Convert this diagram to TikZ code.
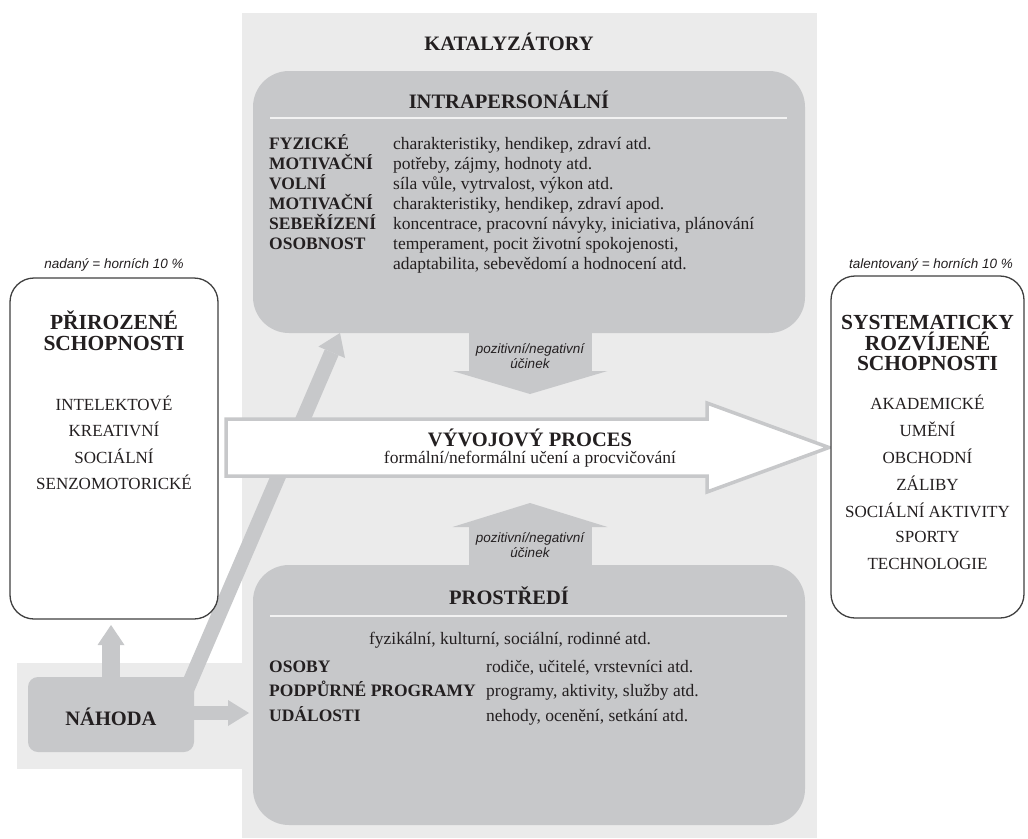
\documentclass[tikz,border=0pt]{standalone}
\usepackage{fontspec}
\setmainfont{Liberation Serif}
\setsansfont{Liberation Sans}
\usetikzlibrary{arrows.meta,calc,positioning}
\pgfdeclarelayer{pozadi}
\pgfsetlayers{pozadi,main}
\definecolor{svetla}{HTML}{EBEBEB}
\definecolor{seda}{HTML}{C7C8CA}
\definecolor{pismo}{HTML}{231F20}
\definecolor{okraj}{HTML}{404040}
\definecolor{cara}{HTML}{F2F2F2}
\tikzset{
  katbox/.style={fill=seda, rounded corners=36pt, inner sep=0pt},
  schopbox/.style={draw=okraj, line width=1.3pt, fill=white, rounded corners=24pt, inner sep=0pt},
  nadpis/.style={text=pismo, font=\fontsize{20.5}{22}\selectfont\bfseries},
  velky/.style={text=pismo, align=center, font=\fontsize{21.5}{20.5}\selectfont\bfseries},
  stitek/.style={text=pismo, anchor=base west, inner sep=0pt, font=\fontsize{17.5}{19}\selectfont\bfseries},
  radek/.style={text=pismo, anchor=base west, inner sep=0pt, font=\fontsize{17.5}{19}\selectfont},
  polozka/.style={text=pismo, font=\fontsize{17}{18}\selectfont},
  poznamka/.style={text=pismo, align=center, font=\fontsize{13.5}{15}\selectfont\sffamily\itshape},
  blok/.style={draw=seda, line cap=butt},
  oddelovac/.style={draw=cara, line width=2pt}
}
\begin{document}
\begin{tikzpicture}[x=1pt,y=-1pt]
\useasboundingbox (0,0) rectangle (1028,838);
% katalyzatory
\node[katbox, minimum width=552pt, minimum height=262pt] (intra) at (529,202) {};
\node[katbox, minimum width=552pt, minimum height=260pt] (prostredi) at (529,695) {};
\node[katbox, rounded corners=10pt, minimum width=166pt, minimum height=75pt] (nahoda) at (111,714.5) {};
\node[nadpis] (nahoda-text) at (111,717) {NÁHODA};
\node[nadpis] (katalyzatory) at (509,42) {KATALYZÁTORY};
\coordinate (dolu-hrot) at (530,394);
\coordinate (nahoru-hrot) at (530,503);
\coordinate (intra-hrot) at (340,333);
\coordinate (nahoda-nahoru) at (111,625);
\coordinate (nahoda-vpravo) at (249,713);
\begin{pgfonlayer}{pozadi}
\fill[svetla] (242,13) rectangle (817,838);
\fill[svetla] (17,663) rectangle (242,769);
\draw[blok, line width=123pt, -{Triangle[width=155pt,length=23pt,line width=0pt]}] (intra.south -| dolu-hrot) -- (dolu-hrot);
\draw[blok, line width=123pt, -{Triangle[width=155pt,length=24pt,line width=0pt]}] (prostredi.north -| nahoru-hrot) -- (nahoru-hrot);
\draw[blok, line width=15pt, -{Triangle[width=29pt,length=21pt,line width=0pt]}] ($(nahoda.north east)+(-8,14)$) -- (intra-hrot);
\draw[blok, line width=18pt, -{Triangle[width=27pt,length=20pt,line width=0pt]}] (nahoda.north -| nahoda-nahoru) -- (nahoda-nahoru);
\draw[blok, line width=14pt, -{Triangle[width=26pt,length=21pt,line width=0pt]}] (nahoda.east |- nahoda-vpravo) -- (nahoda-vpravo);
\end{pgfonlayer}
\node[poznamka] (ucinek-dolu) at (530,356) {pozitivní/negativní\\účinek};
\node[poznamka] (ucinek-nahoru) at (530,545) {pozitivní/negativní\\účinek};
% intrapersonalni
\node[nadpis] (intra-nadpis) at (509,100) {INTRAPERSONÁLNÍ};
\draw[oddelovac] (270,118) -- (787,118);
\foreach \stit/\popis [count=\i from 0] in {FYZICKÉ/{charakteristiky, hendikep, zdraví atd.},
    MOTIVAČNÍ/{potřeby, zájmy, hodnoty atd.},
    VOLNÍ/{síla vůle, vytrvalost, výkon atd.},
    MOTIVAČNÍ/{charakteristiky, hendikep, zdraví apod.},
    SEBEŘÍZENÍ/{koncentrace, pracovní návyky, iniciativa, plánování},
    OSOBNOST/{temperament, pocit životní spokojenosti,}}
{
  \node[stitek] (intra-s\i) at (269,{149+20*\i}) {\stit};
  \node[radek] (intra-p\i) at (393,{149+20*\i}) {\popis};
}
\node[radek] (intra-p6) at (393,269) {adaptabilita, sebevědomí a hodnocení atd.};
% prostredi
\node[nadpis] (prostredi-nadpis) at (509,596) {PROSTŘEDÍ};
\draw[oddelovac] (270,616) -- (787,616);
\node[radek, anchor=center] (prostredi-obecne) at (510,640) {fyzikální, kulturní, sociální, rodinné atd.};
\foreach \stit/\popis [count=\i from 0] in {OSOBY/{rodiče, učitelé, vrstevníci atd.},
    PODPŮRNÉ PROGRAMY/{programy, aktivity, služby atd.},
    UDÁLOSTI/{nehody, ocenění, setkání atd.}}
{
  \node[stitek] (prostredi-s\i) at (269,{672+24.5*\i}) {\stit};
  \node[radek] (prostredi-p\i) at (486,{672+24.5*\i}) {\popis};
}
% vyvojovy proces
\coordinate (proces-zac) at (226,447.5);
\coordinate (proces-hrot) at (829,447.5);
\draw[draw=seda, line width=3.5pt, fill=white, line join=miter] ($(proces-zac)+(0,-28.5)$) -- ($(proces-hrot)+(-122,-28.5)$) -- ($(proces-hrot)+(-122,-44.5)$) -- (proces-hrot) -- ($(proces-hrot)+(-122,44.5)$) -- ($(proces-hrot)+(-122,28.5)$) -- ($(proces-zac)+(0,28.5)$) -- cycle;
\node[nadpis] (proces) at (530,438) {VÝVOJOVÝ PROCES};
\node[radek, anchor=center] (proces-popis) at (530,459) {formální/neformální učení a procvičování};
% prirozene schopnosti
\node[poznamka] (nadany) at (114,265) {nadaný = horních 10 \%};
\node[schopbox, minimum width=208pt, minimum height=341pt] (prirozene) at (114,448.5) {};
\node[velky] (prirozene-nadpis) at (114,331) {PŘIROZENÉ\\SCHOPNOSTI};
\foreach \pol [count=\i from 0] in {INTELEKTOVÉ, KREATIVNÍ, SOCIÁLNÍ, SENZOMOTORICKÉ}
  \node[polozka] (prirozene-\i) at (114,{403+26.5*\i}) {\pol};
% systematicky rozvijene schopnosti
\node[poznamka] (talentovany) at (931,265) {talentovaný = horních 10 \%};
\node[schopbox, minimum width=193pt, minimum height=342pt] (rozvijene) at (927.5,447) {};
\node[velky] (rozvijene-nadpis) at (927.5,343) {SYSTEMATICKY\\ROZVÍJENÉ\\SCHOPNOSTI};
\foreach \pol [count=\i from 0] in {AKADEMICKÉ, UMĚNÍ, OBCHODNÍ, ZÁLIBY, SOCIÁLNÍ AKTIVITY, SPORTY, TECHNOLOGIE}
  \node[polozka] (rozvijene-\i) at (927.5,{402+27*\i}) {\pol};
\end{tikzpicture}
\end{document}
